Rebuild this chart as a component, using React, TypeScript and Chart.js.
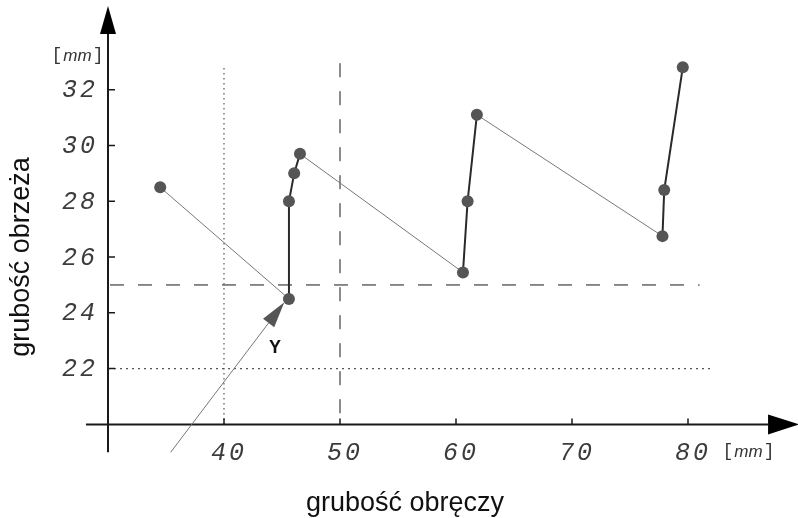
import React, { useEffect, useRef } from "react";
import { Chart, registerables } from "chart.js";

Chart.register(...registerables);

// Measured data (x: grubość obręczy [mm], y: grubość obrzeża [mm])
const xValues = [34.5, 45.6, 45.6, 46.05, 46.55, 60.6, 61.0, 61.8, 77.8, 77.95, 79.55];
const yValues = [28.5, 24.5, 28.0, 29.0, 29.7, 25.45, 28.0, 31.1, 26.75, 28.4, 32.8];

const xTicks = [40, 50, 60, 70, 80];
const yTicks = [22, 24, 26, 28, 30, 32];
const xTickLabels = ["40", "50", "60", "70", "80"];
const yTickLabels = ["22", "24", "26", "28", "30", "32"];

const xTitle = "grubość obręczy";
const yTitle = "grubość obrzeża";
const unitLabel = "mm";
const arrowLabel = "Y";

// axes origin and extents (data units)
const originX = 30;
const originY = 20;
const xAxisStart = 28.1;
const xAxisArrowBase = 86.9;
const xAxisTip = 89.6;
const yAxisStart = 19.0;
const yAxisArrowBase = 34.0;
const yAxisTip = 35.0;

// reference lines (data units)
const vDotX = 40;
const vDotTop = 32.85;
const vDashX = 50;
const vDashTop = 32.95;
const hDashY = 25;
const hDashEnd = 81.0;
const hDotY = 22;
const hDotEnd = 82.0;

// annotation arrow (data units)
const annStart = [35.4, 19.0];
const annTip = [45.2, 24.38];
const annLabelPos = [44.4, 22.75];

const overlayPlugin = {
  id: "overlay",
  beforeDatasetsDraw(chart: any) {
    const { ctx, scales } = chart;
    const X = (v: number) => scales.x.getPixelForValue(v);
    const Y = (v: number) => scales.y.getPixelForValue(v);
    ctx.save();

    // reference lines
    ctx.strokeStyle = "#555";
    ctx.lineWidth = 1.2;
    ctx.setLineDash([1.5, 3.5]);
    ctx.beginPath();
    ctx.moveTo(X(vDotX), Y(originY));
    ctx.lineTo(X(vDotX), Y(vDotTop));
    ctx.stroke();
    ctx.setLineDash([2, 4]);
    ctx.beginPath();
    ctx.moveTo(X(originX), Y(hDotY));
    ctx.lineTo(X(hDotEnd), Y(hDotY));
    ctx.stroke();

    ctx.strokeStyle = "#666";
    ctx.lineWidth = 1.5;
    ctx.setLineDash([14, 14]);
    ctx.beginPath();
    ctx.moveTo(X(vDashX), Y(vDashTop));
    ctx.lineTo(X(vDashX), Y(originY));
    ctx.stroke();
    ctx.beginPath();
    ctx.moveTo(X(originX) + 2, Y(hDashY));
    ctx.lineTo(X(hDashEnd), Y(hDashY));
    ctx.stroke();
    ctx.setLineDash([]);

    // axes
    ctx.strokeStyle = "#1a1a1a";
    ctx.fillStyle = "#000";
    ctx.lineWidth = 2;
    ctx.beginPath();
    ctx.moveTo(X(xAxisStart), Y(originY));
    ctx.lineTo(X(xAxisArrowBase), Y(originY));
    ctx.moveTo(X(originX), Y(yAxisStart));
    ctx.lineTo(X(originX), Y(yAxisArrowBase));
    ctx.stroke();

    // arrowheads
    const oy = Y(originY);
    const ox = X(originX);
    ctx.beginPath();
    ctx.moveTo(X(xAxisTip), oy);
    ctx.lineTo(X(xAxisArrowBase), oy - 10);
    ctx.lineTo(X(xAxisArrowBase), oy + 10);
    ctx.closePath();
    ctx.fill();
    ctx.beginPath();
    ctx.moveTo(ox, Y(yAxisTip));
    ctx.lineTo(ox - 8, Y(yAxisArrowBase));
    ctx.lineTo(ox + 8, Y(yAxisArrowBase));
    ctx.closePath();
    ctx.fill();

    // ticks
    ctx.lineWidth = 1.5;
    ctx.beginPath();
    xTicks.forEach((v) => {
      ctx.moveTo(X(v), oy);
      ctx.lineTo(X(v), oy - 6);
    });
    yTicks.forEach((v) => {
      ctx.moveTo(ox, Y(v));
      ctx.lineTo(ox + 7, Y(v));
    });
    ctx.stroke();

    // annotation arrow
    const sx = X(annStart[0]);
    const sy = Y(annStart[1]);
    const tx = X(annTip[0]);
    const ty = Y(annTip[1]);
    const dx = tx - sx;
    const dy = ty - sy;
    const len = Math.sqrt(dx * dx + dy * dy);
    const ux = dx / len;
    const uy = dy / len;
    const bx = tx - ux * 26;
    const by = ty - uy * 26;
    ctx.strokeStyle = "#777";
    ctx.lineWidth = 1;
    ctx.beginPath();
    ctx.moveTo(sx, sy);
    ctx.lineTo(bx, by);
    ctx.stroke();
    ctx.fillStyle = "#555";
    ctx.beginPath();
    ctx.moveTo(tx, ty);
    ctx.lineTo(bx - uy * 7, by + ux * 7);
    ctx.lineTo(bx + uy * 7, by - ux * 7);
    ctx.closePath();
    ctx.fill();

    ctx.restore();
  },
  afterDraw(chart: any) {
    const { ctx, scales } = chart;
    const X = (v: number) => scales.x.getPixelForValue(v);
    const Y = (v: number) => scales.y.getPixelForValue(v);
    const ox = X(originX);
    const oy = Y(originY);
    ctx.save();
    ctx.fillStyle = "#3c3c3c";
    ctx.font = "italic 25px 'Liberation Mono'";
    (ctx as any).letterSpacing = "3px";
    ctx.textBaseline = "middle";
    ctx.textAlign = "right";
    yTicks.forEach((v, i) => {
      ctx.fillText(yTickLabels[i], ox - 10, Y(v) + 1);
    });
    ctx.textAlign = "center";
    xTicks.forEach((v, i) => {
      ctx.fillText(xTickLabels[i], X(v) + 5, oy + 29);
    });
    (ctx as any).letterSpacing = "0px";

    // unit labels
    const drawUnit = (cx: number, cy: number) => {
      ctx.fillStyle = "#333";
      ctx.textBaseline = "middle";
      ctx.font = "18px 'Liberation Mono'";
      ctx.textAlign = "left";
      ctx.fillText("[", cx - 26, cy);
      ctx.textAlign = "right";
      ctx.fillText("]", cx + 26, cy);
      ctx.textAlign = "center";
      ctx.font = "italic 17px 'Liberation Sans'";
      ctx.fillText(unitLabel, cx, cy + 1);
    };
    drawUnit(ox - 30.5, Y(33.25));
    drawUnit(748.5, oy + 27);

    // annotation label
    ctx.fillStyle = "#111";
    ctx.font = "bold 18px 'Liberation Sans'";
    ctx.textAlign = "center";
    ctx.textBaseline = "middle";
    ctx.fillText(arrowLabel, X(annLabelPos[0]), Y(annLabelPos[1]));

    // axis titles
    ctx.fillStyle = "#111";
    ctx.font = "27px 'Liberation Sans'";
    ctx.textAlign = "center";
    ctx.textBaseline = "alphabetic";
    ctx.fillText(xTitle, 405, 511);
    ctx.save();
    ctx.translate(29, 257);
    ctx.rotate(-Math.PI / 2);
    ctx.fillText(yTitle, 0, 0);
    ctx.restore();

    ctx.restore();
  },
};

export default function App() {
  const ref = useRef<HTMLCanvasElement>(null);
  useEffect(() => {
    if (!ref.current) return;
    const steep = (c: any) => Math.abs(c.p1.parsed.x - c.p0.parsed.x) < 2;
    const chart = new Chart(ref.current, {
      type: "scatter",
      data: {
        datasets: [
          {
            data: xValues.map((x, i) => ({ x, y: yValues[i] })),
            showLine: true,
            borderColor: "#777",
            borderWidth: 1,
            segment: {
              borderColor: (c: any) => (steep(c) ? "#2a2a2a" : "#777"),
              borderWidth: (c: any) => (steep(c) ? 2 : 1),
            },
            pointRadius: 6,
            pointBackgroundColor: "#555",
            pointBorderWidth: 0,
            pointBorderColor: "#555",
          },
        ],
      },
      options: {
        responsive: false,
        animation: false,
        devicePixelRatio: 1,
        layout: { padding: { left: 15.2, right: 17.2, top: 5.05, bottom: 37.8 } },
        plugins: { legend: { display: false }, tooltip: { enabled: false } },
        scales: {
          x: { type: "linear", min: 22, max: 88, display: false },
          y: { type: "linear", min: 18, max: 35, display: false },
        },
      },
      plugins: [overlayPlugin],
    });
    return () => chart.destroy();
  }, []);
  return (
    <div style={{ position: "fixed", left: 0, top: 0, width: 798, height: 518, background: "#fff" }}>
      <canvas ref={ref} width={798} height={518} />
    </div>
  );
}
